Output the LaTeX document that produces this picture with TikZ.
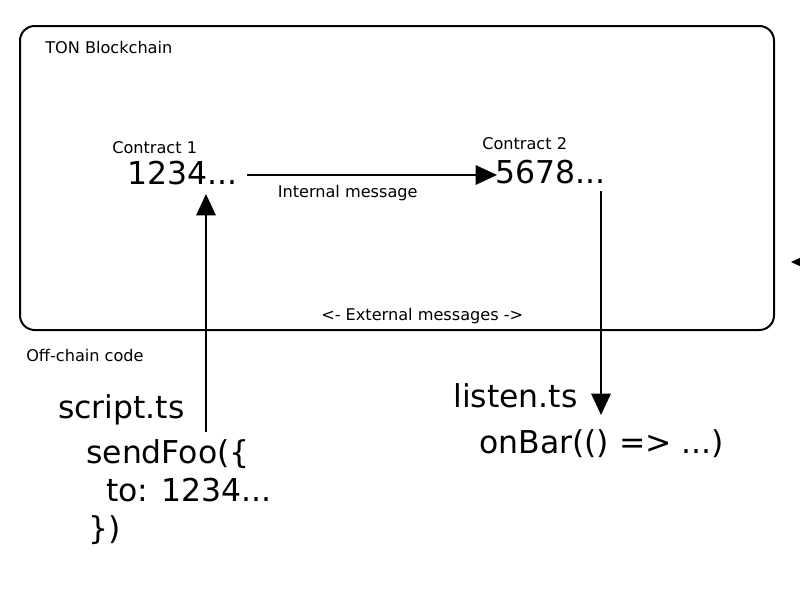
\documentclass[tikz,border=0pt]{standalone}
\usepackage{fontspec}
\setmainfont{DejaVu Sans}
\usetikzlibrary{arrows.meta}
\begin{document}
\begin{tikzpicture}[x=0.75pt,y=-0.75pt,
  small/.style={anchor=base west,inner sep=0pt,font=\fontsize{12.1}{14}\selectfont},
  big/.style={anchor=base west,inner sep=0pt,font=\fontsize{23.6}{28}\selectfont},
  conn/.style={line width=1.5pt,-{Triangle[length=16pt,width=14.5pt]}},
  chain/.style={line width=1.5pt,rounded corners=11pt}]
\useasboundingbox (0,0) rectangle (800,600);
\clip (0,0) rectangle (800,600);
\draw[chain] (20,26) rectangle (774,330);
\node[small] (ton) at (45,53) {TON Blockchain};
\node[small] (c1lbl) at (112,153) {Contract 1};
\node[big] (c1) at (127,184) {1234...};
\node[small] (c2lbl) at (482,149) {Contract 2};
\node[big] (c2) at (495,183) {5678...};
\node[small] (intmsg) at (277.5,197) {Internal message};
\node[small] (ext) at (321,320) {<- External messages ->};
\node[small] (off) at (26,361) {Off-chain code};
\node[big] (script) at (58,418) {script.ts};
\node[big] (send1) at (86,463) {sendFoo(\{};
\node[big] (send2) at (106,501) {to: 1234...};
\node[big] (send3) at (88,539) {\})};
\node[big] (listen) at (453,407) {listen.ts};
\node[big] (onbar) at (479,453) {onBar(() => ...)};
\coordinate (hA) at (247,175);
\coordinate (hB) at (497,175);
\coordinate (uA) at (206,432);
\coordinate (uB) at (206,194);
\coordinate (dA) at (601,191);
\coordinate (dB) at (601,415);
\coordinate (rA) at (845,262);
\coordinate (rB) at (791,262);
\draw[conn] (hA) -- (hB);
\draw[conn] (uA) -- (uB);
\draw[conn] (dA) -- (dB);
\draw[conn] (rA) -- (rB);
\end{tikzpicture}
\end{document}
